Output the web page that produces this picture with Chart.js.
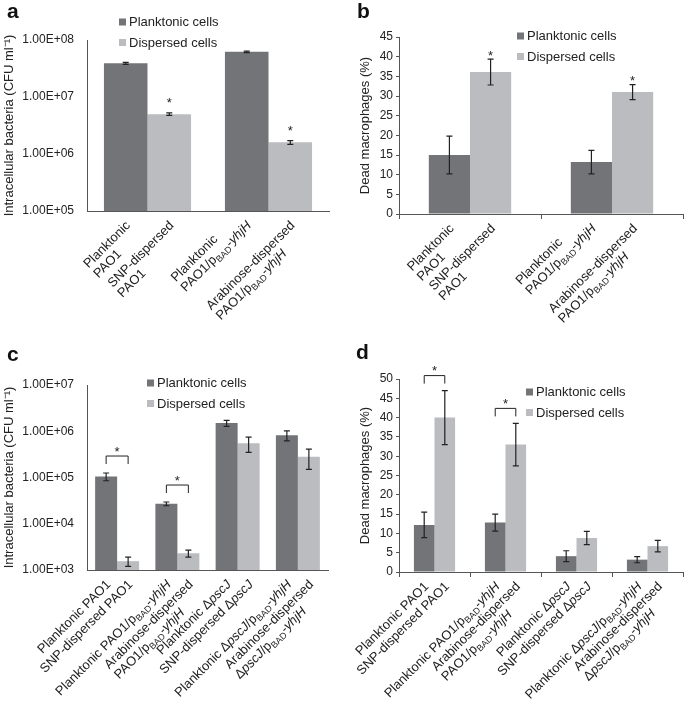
<!DOCTYPE html>
<html>
<head>
<meta charset="utf-8">
<script src="https://cdn.jsdelivr.net/npm/chart.js@4.4.0/dist/chart.umd.min.js"></script>
<style>
body { margin: 0; background: #fff; }
#wrap { position: relative; width: 685px; height: 704px; overflow: hidden; }
canvas { position: absolute; }
.tag { position: absolute; font: bold 21px "Liberation Sans", Arial, sans-serif; color: #111; line-height: 1; }
</style>
</head>
<body>
<div id="wrap">
  <canvas id="chartA" width="340" height="340" style="left:0;top:0"></canvas>
  <canvas id="chartB" width="345" height="340" style="left:340px;top:0"></canvas>
  <canvas id="chartC" width="340" height="364" style="left:0;top:340px"></canvas>
  <canvas id="chartD" width="345" height="364" style="left:340px;top:340px"></canvas>
  <div class="tag" style="left:7px;top:0px">a</div>
  <div class="tag" style="left:357px;top:0px">b</div>
  <div class="tag" style="left:7px;top:343px">c</div>
  <div class="tag" style="left:356px;top:341px">d</div>
</div>
<script>
var FAMILY = '"Liberation Sans", Arial, sans-serif';
var DARK = '#737478';
var LIGHT = '#bbbcbf';
var AXIS = '#555';
var TEXT = '#222';

var seriesNames = ['Planktonic cells', 'Dispersed cells'];

// panels a and b
var groupsAB = ['PAO1', 'PAO1/pBAD-yhjH'];
var barLabelsAB = [
  ['Planktonic', 'PAO1'],
  ['SNP-dispersed', 'PAO1'],
  ['Planktonic', 'PAO1/p[BAD]-{yhjH}'],
  ['Arabinose-dispersed', 'PAO1/p[BAD]-{yhjH}']
];
var plankA = [3.9e7, 6.2e7];
var plankAErr = [0.15e7, 0.2e7];
var dispA = [5.0e6, 1.6e6];
var dispAErr = [0.25e6, 0.12e6];
var sigA = [true, true];
var ticksA = [1e5, 1e6, 1e7, 1e8];

var plankB = [15, 13.2];
var plankBErr = [4.8, 3.0];
var dispB = [36.1, 31];
var dispBErr = [3.3, 1.9];
var sigB = [true, true];

// panels c and d
var groupsCD = ['PAO1', 'PAO1/pBAD-yhjH', 'pscJ', 'pscJ/pBAD-yhjH'];
var barLabelsCD = [
  ['Planktonic PAO1'],
  ['SNP-dispersed PAO1'],
  ['Planktonic PAO1/p[BAD]-{yhjH}'],
  ['Arabinose-dispersed', 'PAO1/p[BAD]-{yhjH}'],
  ['Planktonic \u0394{pscJ}'],
  ['SNP-dispersed \u0394{pscJ}'],
  ['Planktonic \u0394{pscJ}/p[BAD]-{yhjH}'],
  ['Arabinose-dispersed', '\u0394{pscJ}/p[BAD]-{yhjH}']
];
var plankC = [1.05e5, 2.7e4, 1.5e6, 8.2e5];
var plankCErr = [0.2e5, 0.25e4, 0.22e6, 2.0e5];
var dispC = [1.55e3, 2.3e3, 5.5e5, 2.8e5];
var dispCErr = [0.35e3, 0.4e3, 2.0e5, 1.3e5];
var sigC = [true, true, false, false];
var ticksC = [1e3, 1e4, 1e5, 1e6, 1e7];

var plankD = [12.2, 12.8, 4.1, 3.2];
var plankDErr = [3.3, 2.2, 1.4, 0.8];
var dispD = [40, 33, 8.8, 6.7];
var dispDErr = [7, 5.5, 1.7, 1.5];
var sigD = [true, true, false, false];

function fmtSci(v) {
  var e = Math.round(Math.log10(v));
  var m = v / Math.pow(10, e);
  var a = Math.abs(e);
  return m.toFixed(2) + 'E' + (e < 0 ? '-' : '+') + (a < 10 ? '0' : '') + a;
}

// "[..]" = subscript, "{..}" = italic
function parseRich(s) {
  var parts = s.match(/\[[^\]]*\]|\{[^}]*\}|[^\[{]+/g) || [];
  return parts.map(function (p) {
    if (p[0] === '[') return { t: p.slice(1, -1), sub: true };
    if (p[0] === '{') return { t: p.slice(1, -1), it: true };
    return { t: p };
  });
}
function segFont(seg) {
  if (seg.sub) return '9px ' + FAMILY;
  if (seg.it) return 'italic 13px ' + FAMILY;
  return '13px ' + FAMILY;
}
function richWidth(ctx, segs) {
  var w = 0;
  segs.forEach(function (s) { ctx.font = segFont(s); w += ctx.measureText(s.t).width; });
  return w;
}
function drawRich(ctx, segs, x, y) {
  segs.forEach(function (s) {
    ctx.font = segFont(s);
    ctx.fillText(s.t, x, s.sub ? y + 3 : y);
    x += ctx.measureText(s.t).width;
  });
}

function drawStar(ctx, x, cy) {
  ctx.font = '13px ' + FAMILY;
  ctx.textAlign = 'center';
  ctx.textBaseline = 'alphabetic';
  ctx.fillText('*', x, cy + 7.5);
}

var extrasPlugin = {
  id: 'extras',
  afterDatasetsDraw: function (chart, args, opts) {
    var ctx = chart.ctx;
    var y = chart.scales.y;
    var area = chart.chartArea;
    var tops = [[], []];
    ctx.save();
    ctx.strokeStyle = TEXT;
    ctx.fillStyle = TEXT;
    ctx.lineWidth = 1.2;

    // error bars
    chart.data.datasets.forEach(function (ds, i) {
      chart.getDatasetMeta(i).data.forEach(function (bar, j) {
        var v = ds.data[j], e = ds.errors[j];
        var yt = y.getPixelForValue(v + e);
        var yb = y.getPixelForValue(v - e);
        tops[i][j] = yt;
        ctx.beginPath();
        ctx.moveTo(bar.x, yt); ctx.lineTo(bar.x, yb);
        ctx.moveTo(bar.x - 3, yt); ctx.lineTo(bar.x + 3, yt);
        ctx.moveTo(bar.x - 3, yb); ctx.lineTo(bar.x + 3, yb);
        ctx.stroke();
      });
    });

    // significance marks
    var m0 = chart.getDatasetMeta(0), m1 = chart.getDatasetMeta(1);
    opts.sig.forEach(function (s, j) {
      if (!s) return;
      if (opts.bracket) {
        var x1 = m0.data[j].x, x2 = m1.data[j].x;
        var by = Math.min(tops[0][j], tops[1][j]) - opts.gap;
        ctx.lineWidth = 1;
        ctx.beginPath();
        ctx.moveTo(x1, by + 8); ctx.lineTo(x1, by); ctx.lineTo(x2, by); ctx.lineTo(x2, by + 8);
        ctx.stroke();
        drawStar(ctx, (x1 + x2) / 2, by - 8);
      } else {
        drawStar(ctx, m1.data[j].x, tops[1][j] - opts.gap);
      }
    });

    // per-bar rotated labels
    var n = chart.data.labels.length;
    for (var j = 0; j < n; j++) {
      [m0, m1].forEach(function (meta, i) {
        var lab = opts.labels[j * 2 + i];
        var lines = lab.map(parseRich);
        var widths = lines.map(function (l) { return richWidth(ctx, l); });
        var maxW = Math.max.apply(null, widths);
        var iMax = widths.indexOf(maxW);
        ctx.save();
        ctx.translate(meta.data[j].x + 2, area.bottom + 12);
        ctx.rotate(-Math.PI / 4);
        ctx.textAlign = 'left';
        ctx.textBaseline = 'alphabetic';
        lines.forEach(function (segs, k) {
          drawRich(ctx, segs, -maxW, (k - iMax) * 14 + 4.5);
        });
        ctx.restore();
      });
    }

    // legend
    var lg = opts.legend;
    chart.data.datasets.forEach(function (ds, i) {
      var cy = lg.y + i * 20.5;
      ctx.fillStyle = ds.backgroundColor;
      ctx.fillRect(lg.x, cy - 3.5, 7, 7);
      ctx.fillStyle = TEXT;
      ctx.font = '13px ' + FAMILY;
      ctx.textAlign = 'left';
      ctx.textBaseline = 'middle';
      ctx.fillText(ds.label, lg.x + 10, cy + 0.5);
    });
    ctx.restore();
  }
};

function makeChart(id, cfg) {
  return new Chart(document.getElementById(id).getContext('2d'), {
    type: 'bar',
    data: {
      labels: cfg.groups,
      datasets: [{
        label: seriesNames[0],
        data: cfg.plank,
        errors: cfg.plankErr,
        backgroundColor: DARK,
        categoryPercentage: cfg.catPct,
        barPercentage: 1
      }, {
        label: seriesNames[1],
        data: cfg.disp,
        errors: cfg.dispErr,
        backgroundColor: LIGHT,
        categoryPercentage: cfg.catPct,
        barPercentage: 1
      }]
    },
    options: {
      responsive: false,
      animation: false,
      layout: { padding: cfg.padding },
      plugins: {
        legend: { display: false },
        tooltip: { enabled: false },
        extras: {
          sig: cfg.sig,
          bracket: cfg.bracket,
          gap: cfg.gap,
          labels: cfg.barLabels,
          legend: cfg.legend
        }
      },
      scales: {
        x: {
          offset: true,
          grid: { display: cfg.ticked, drawOnChartArea: false, tickLength: 5, color: AXIS, offset: true },
          border: { display: true, color: AXIS, width: 1 },
          ticks: { display: false },
          afterFit: function (s) { s.height = cfg.xHeight; }
        },
        y: cfg.yScale
      }
    },
    plugins: [extrasPlugin]
  });
}

function logScale(ticks, width) {
  return {
    type: 'logarithmic',
    min: ticks[0],
    max: ticks[ticks.length - 1],
    grid: { display: false },
    border: { display: true, color: AXIS, width: 1 },
    afterBuildTicks: function (s) { s.ticks = ticks.map(function (v) { return { value: v }; }); },
    ticks: { padding: 5, color: TEXT, font: { family: FAMILY, size: 12 }, callback: function (v) { return fmtSci(v); } },
    title: { display: true, text: 'Intracellular bacteria (CFU ml\u207B\u00B9)', color: TEXT, font: { family: FAMILY, size: 13 }, padding: { top: 2, bottom: 0 } },
    afterFit: function (s) { s.width = width; }
  };
}

function linScale(max, width) {
  return {
    min: 0,
    max: max,
    grid: { display: true, drawOnChartArea: false, tickLength: 3, color: AXIS },
    border: { display: true, color: AXIS, width: 1 },
    ticks: { stepSize: 5, padding: 3, color: TEXT, font: { family: FAMILY, size: 12 } },
    title: { display: true, text: 'Dead macrophages (%)', color: TEXT, font: { family: FAMILY, size: 13 }, padding: { top: 18, bottom: 0 } },
    afterFit: function (s) { s.width = width; }
  };
}

makeChart('chartA', {
  groups: groupsAB, barLabels: barLabelsAB,
  plank: plankA, plankErr: plankAErr, disp: dispA, dispErr: dispAErr,
  sig: sigA, bracket: false, gap: 13,
  catPct: 0.72, ticked: false,
  padding: { top: 40, right: 11, left: 0, bottom: 0 },
  xHeight: 129,
  yScale: logScale(ticksA, 87),
  legend: { x: 119, y: 22 }
});

makeChart('chartB', {
  groups: groupsAB, barLabels: barLabelsAB,
  plank: plankB, plankErr: plankBErr, disp: dispB, dispErr: dispBErr,
  sig: sigB, bracket: false, gap: 7,
  catPct: 0.58, ticked: true,
  padding: { top: 37, right: 2, left: 0, bottom: 0 },
  xHeight: 126,
  yScale: linScale(45, 59),
  legend: { x: 177, y: 36 }
});

makeChart('chartC', {
  groups: groupsCD, barLabels: barLabelsCD,
  plank: plankC, plankErr: plankCErr, disp: dispC, dispErr: dispCErr,
  sig: sigC, bracket: true, gap: 17,
  catPct: 0.73, ticked: false,
  padding: { top: 45, right: 12, left: 0, bottom: 0 },
  xHeight: 134,
  yScale: logScale(ticksC, 87),
  legend: { x: 147, y: 43 }
});

makeChart('chartD', {
  groups: groupsCD, barLabels: barLabelsCD,
  plank: plankD, plankErr: plankDErr, disp: dispD, dispErr: dispDErr,
  sig: sigD, bracket: true, gap: 15,
  catPct: 0.58, ticked: true,
  padding: { top: 39, right: 2, left: 0, bottom: 0 },
  xHeight: 132,
  yScale: linScale(50, 59),
  legend: { x: 186, y: 52 }
});
</script>
</body>
</html>
